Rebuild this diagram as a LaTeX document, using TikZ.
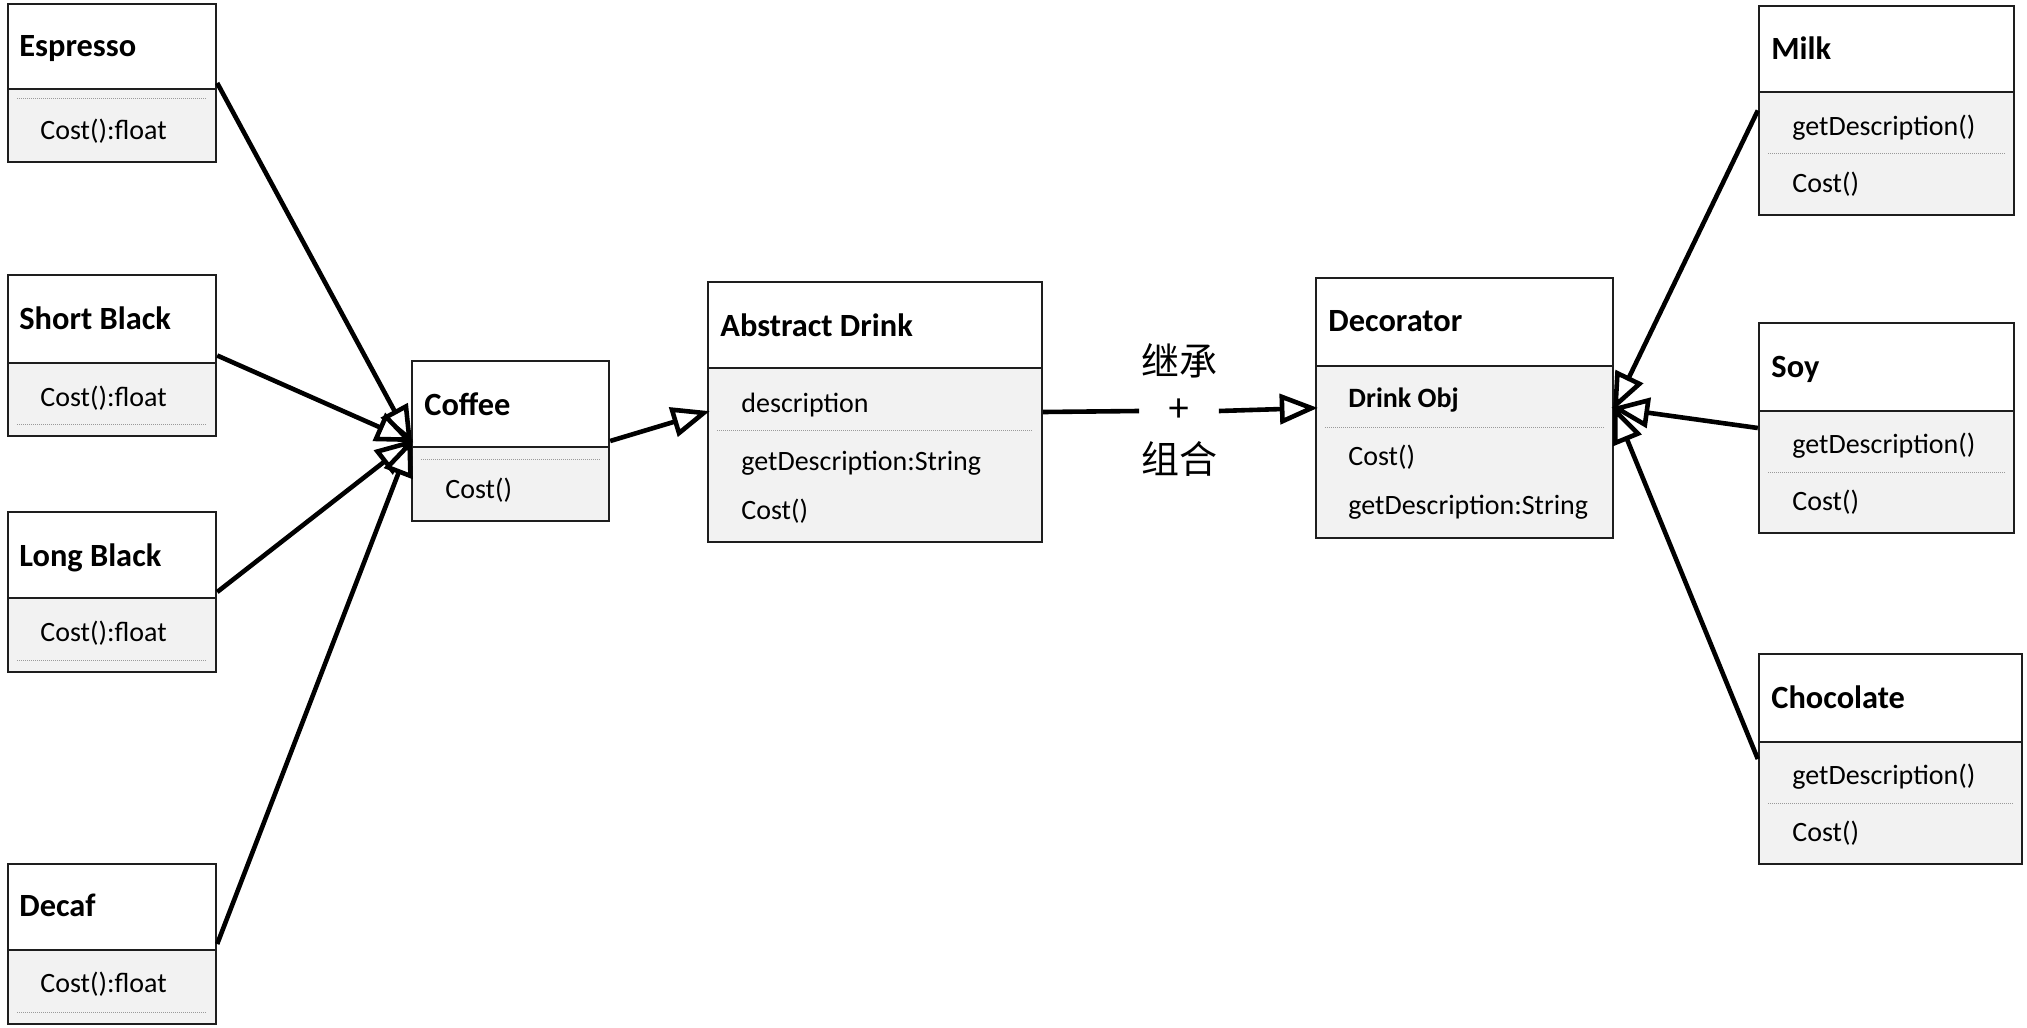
\documentclass[tikz,border=0pt]{standalone}
\usepackage{fontspec}
\setmainfont{Carlito}
\newfontfamily\cjk{Noto Sans CJK SC}
\usetikzlibrary{arrows.meta,fit}
\definecolor{compfill}{HTML}{F2F2F2}
\definecolor{bordercol}{HTML}{1E1E1E}
\definecolor{sepcol}{HTML}{9A9A9A}
\tikzset{
  border/.style={draw=bordercol,line width=1.2pt},
  boxframe/.style={draw=bordercol,line width=1.2pt,inner sep=0pt,rectangle},
  sepline/.style={draw=sepcol,line width=0.5pt,dash pattern=on 0.5pt off 0.5pt},
  titletext/.style={anchor=mid west,inner sep=0pt,yshift=-3pt,font=\bfseries\fontsize{16.2}{19}\selectfont},
  itemtext/.style={anchor=mid west,inner sep=0pt,yshift=-3pt,font=\fontsize{14}{17}\selectfont},
  bolditem/.style={anchor=mid west,inner sep=0pt,yshift=-3pt,font=\bfseries\fontsize{14}{17}\selectfont},
  inherit/.style={line width=2.3pt,draw=black,shorten >=-1.5pt,-{Triangle[length=19pt,width=15pt,fill=white]}},
  link/.style={line width=2.3pt,draw=black},
  cjklabel/.style={inner sep=0pt,font=\cjk\fontsize{19}{22}\selectfont},
}
\newcommand\umlbox[7]{% name, L, T, R, B, D, sep
  \fill[white] (#2,#3) rectangle (#4,#6);
  \fill[compfill] (#2,#6) rectangle (#4,#5);
  \draw[border] (#2,#6) -- (#4,#6);
  \draw[sepline] (#2+9,#7) -- (#4-9,#7);
  \coordinate (#1-nw) at (#2,#3);
  \coordinate (#1-se) at (#4,#5);
  \node[boxframe,fit=(#1-nw)(#1-se)] (#1) {};
}
\begin{document}
\begin{tikzpicture}[x=0.5pt,y=-0.5pt]
\useasboundingbox[fill=white] (0,0) rectangle (2027,1027);

% left column
\umlbox{esp}{8}{4}{216}{162}{89}{99}
\node[titletext] (esp-t) at (19,46) {Espresso};
\node[itemtext] (esp-c) at (40,129) {Cost():float};

\umlbox{sb}{8}{275}{216}{436}{363}{424}
\node[titletext] (sb-t) at (19,319) {Short Black};
\node[itemtext] (sb-c) at (40,396) {Cost():float};

\umlbox{lb}{8}{512}{216}{672}{598}{660}
\node[titletext] (lb-t) at (19,556) {Long Black};
\node[itemtext] (lb-c) at (40,631) {Cost():float};

\umlbox{dcf}{8}{864}{216}{1024}{950}{1012}
\node[titletext] (dcf-t) at (19,906) {Decaf};
\node[itemtext] (dcf-c) at (40,982) {Cost():float};

% coffee
\umlbox{cof}{412}{361}{609}{521}{447}{459}
\node[titletext] (cof-t) at (424,405) {Coffee};
\node[itemtext] (cof-c) at (445,488) {Cost()};

% abstract drink
\umlbox{abs}{708}{282}{1042}{542}{368}{430}
\node[titletext] (abs-t) at (720,326) {Abstract Drink};
\node[itemtext] (abs-a) at (741,402) {description};
\node[itemtext] (abs-g) at (741,460) {getDescription:String};
\node[itemtext] (abs-c) at (741,509) {Cost()};

% decorator
\umlbox{dcr}{1316}{278}{1613}{538}{366}{427}
\node[titletext] (dcr-t) at (1328,321) {Decorator};
\node[bolditem] (dcr-o) at (1348,397) {Drink Obj};
\node[itemtext] (dcr-c) at (1348,455) {Cost()};
\node[itemtext] (dcr-g) at (1348,504) {getDescription:String};

% right column
\umlbox{milk}{1759}{6}{2014}{215}{92}{154}
\node[titletext] (milk-t) at (1771,49) {Milk};
\node[itemtext] (milk-g) at (1792,125) {getDescription()};
\node[itemtext] (milk-c) at (1792,182) {Cost()};

\umlbox{soy}{1759}{323}{2014}{533}{411}{472}
\node[titletext] (soy-t) at (1771,367) {Soy};
\node[itemtext] (soy-g) at (1792,443) {getDescription()};
\node[itemtext] (soy-c) at (1792,500) {Cost()};

\umlbox{choc}{1759}{654}{2022}{864}{742}{803}
\node[titletext] (choc-t) at (1771,698) {Chocolate};
\node[itemtext] (choc-g) at (1792,774) {getDescription()};
\node[itemtext] (choc-c) at (1792,831) {Cost()};

% label
\node[cjklabel] (inh) at (1179,361) {继承};
\node[cjklabel,minimum width=39.5pt] (plus) at (1179,411) {+};
\node[cjklabel] (comp) at (1179,459) {组合};

% connectors
\draw[inherit] (esp.east) -- (cof.west);
\draw[inherit] (sb.east) -- (cof.west);
\draw[inherit] (lb.east) -- (cof.west);
\draw[inherit] (dcf.east) -- (cof.west);
\draw[inherit] (cof.east) -- (abs.west);
\draw[link] (abs.east) -- (plus.west);
\draw[inherit] (plus.east) -- (dcr.west);
\draw[inherit] (milk.west) -- (dcr.east);
\draw[inherit] (soy.west) -- (dcr.east);
\draw[inherit] (choc.west) -- (dcr.east);
\end{tikzpicture}
\end{document}
